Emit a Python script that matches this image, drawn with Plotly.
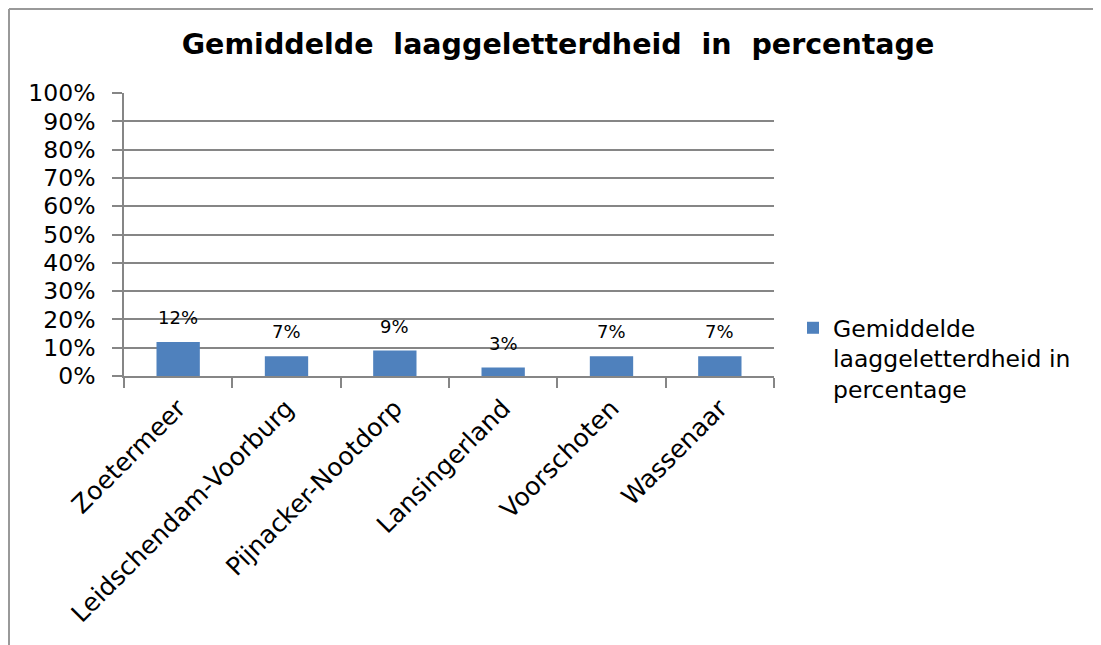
import plotly.graph_objects as go

categories = ["Zoetermeer", "Leidschendam-Voorburg", "Pijnacker-Nootdorp",
              "Lansingerland", "Voorschoten", "Wassenaar"]
values = [12, 7, 9, 3, 7, 7]
value_labels = ["12%", "7%", "9%", "3%", "7%", "7%"]
series_name = "Gemiddelde<br>laaggeletterdheid in<br>percentage"
title_text = "Gemiddelde  laaggeletterdheid  in  percentage"
ytick_vals = [0, 10, 20, 30, 40, 50, 60, 70, 80, 90, 100]
ytick_text = ["0%", "10%", "20%", "30%", "40%", "50%", "60%", "70%", "80%", "90%", "100%"]

FONT = "DejaVu Sans"
OFF = 8  # page body margin
W, H = 1101 - OFF, 645 - OFF
L, T = 124 - OFF, 93 - OFF
R = W - (774 - OFF)
B = H - (376 - OFF)

pw = W - L - R
ph = H - T - B


def px(x):
    """screen x -> paper"""
    return (x - OFF - L) / pw


def py(y):
    """screen y -> paper"""
    return (H - B - (y - OFF)) / ph


fig = go.Figure()
fig.add_trace(go.Bar(
    x=categories, y=values, name=series_name,
    marker=dict(color="#4F81BD", line=dict(width=0)),
    showlegend=True,
))

for c, v, t in zip(categories, values, value_labels):
    fig.add_annotation(x=c, y=v, text=t, showarrow=False, yanchor="bottom",
                       yshift=12, font=dict(family=FONT, size=18, color="#000"))

border = dict(color="#999999", width=2)
fig.add_shape(type="line", xref="paper", yref="paper",
              x0=px(9), x1=px(1110), y0=py(9), y1=py(9), line=border)
fig.add_shape(type="line", xref="paper", yref="paper",
              x0=px(9), x1=px(9), y0=py(9), y1=py(660), line=border)

fig.update_layout(
    width=W, height=H,
    margin=dict(l=L, r=R, t=T, b=B),
    paper_bgcolor="white", plot_bgcolor="white",
    font=dict(family=FONT, color="#000"),
    title=dict(text="<b>" + title_text + "</b>", x=px(558), xanchor="center",
               xref="paper", yref="container", y=1 - (44 - OFF) / H, yanchor="middle",
               font=dict(family=FONT, size=28.5, color="#000")),
    bargap=0.6,
    showlegend=True,
    legend=dict(x=px(793), y=py(306), xanchor="left", yanchor="top",
                xref="paper", yref="paper", valign="top",
                font=dict(family=FONT, size=23.5, color="#000"),
                itemwidth=30, tracegroupgap=0, bgcolor="rgba(0,0,0,0)"),
)
fig.update_yaxes(range=[0, 100], tickvals=ytick_vals, ticktext=ytick_text,
                 showgrid=True, gridcolor="#868686", gridwidth=1.5,
                 showline=True, linecolor="#868686", linewidth=1.5,
                 ticks="outside", ticklen=10, tickcolor="#868686", tickwidth=1.5,
                 ticklabelstandoff=12,
                 tickfont=dict(family=FONT, size=23.5, color="#000"),
                 zeroline=False, fixedrange=True)
fig.update_xaxes(showline=True, linecolor="#868686", linewidth=1.5,
                 ticks="outside", ticklen=10, tickcolor="#868686", tickwidth=1.5,
                 tickson="boundaries", tickangle=-45, ticklabelstandoff=6,
                 tickfont=dict(family=FONT, size=25, color="#000"),
                 showgrid=False, fixedrange=True)

fig.write_html("out.html")
